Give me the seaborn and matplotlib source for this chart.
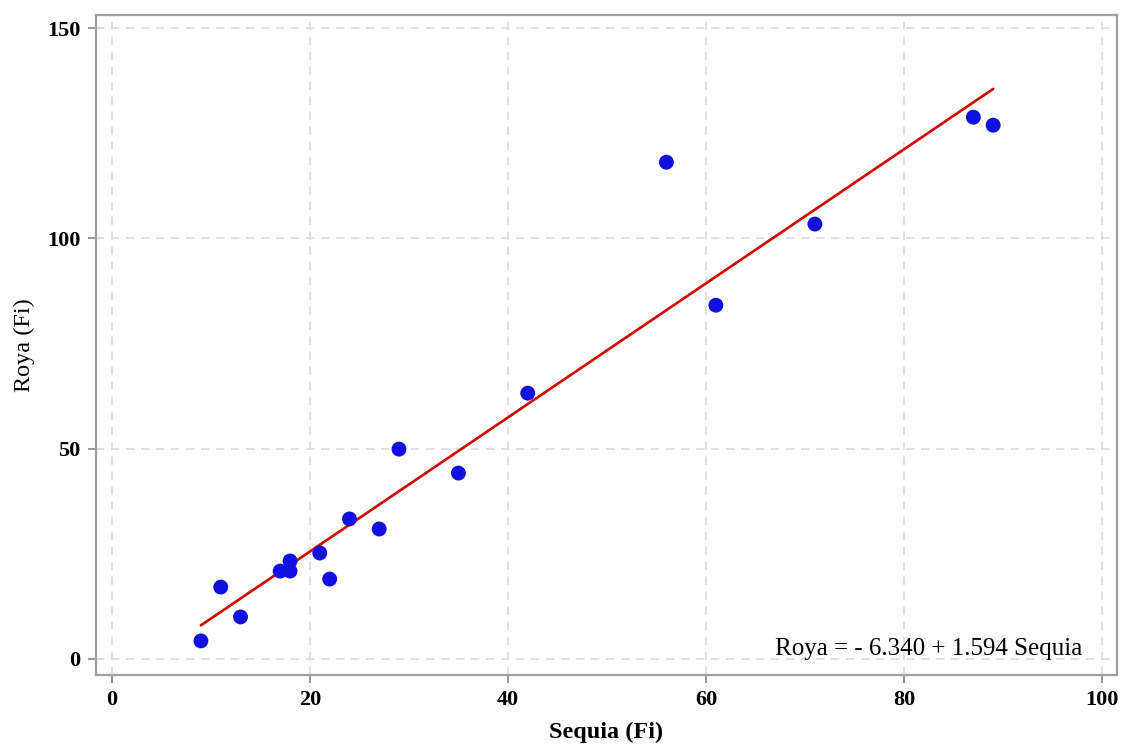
import matplotlib
matplotlib.use("Agg")
import matplotlib.pyplot as plt
import seaborn as sns
import numpy as np
import pandas as pd

sequia = [9, 11, 13, 17, 18, 18, 21, 22, 24, 27, 29, 35, 42, 56, 61, 71, 87, 89]
roya = [4.3, 17.1, 10.0, 20.9, 23.3, 20.9, 25.2, 19.0, 33.3, 30.9, 49.9, 44.2, 63.2, 118.1, 84.1, 103.4, 128.8, 126.9]
intercept = -6.340
slope = 1.594
x_ticks = [0, 20, 40, 60, 80, 100]
y_ticks = [0, 50, 100, 150]
equation = "Roya = - 6.340 + 1.594 Sequia"

sns.set_theme(style="white")
plt.rcParams['font.family'] = ['Liberation Serif', 'DejaVu Serif']
plt.rcParams['text.color'] = 'black'
plt.rcParams['axes.labelcolor'] = 'black'
plt.rcParams['xtick.labelcolor'] = 'black'
plt.rcParams['ytick.labelcolor'] = 'black'

df = pd.DataFrame({"Sequia": sequia, "Roya": roya})
xfit = np.linspace(min(sequia), max(sequia), 50)
fit = pd.DataFrame({"Sequia": xfit, "Roya": intercept + slope * xfit})

fig = plt.figure(figsize=(11.21, 7.46), dpi=100)
ax = fig.add_axes([0.0856, 0.0952, 0.9108, 0.8847])

sns.lineplot(data=fit, x="Sequia", y="Roya", ax=ax, color="#D00000", linewidth=1.9, zorder=2)
sns.scatterplot(data=df, x="Sequia", y="Roya", ax=ax, color="#1010E0", s=115,
                edgecolor="none", zorder=3)

ax.set_xlim(-1.6, 101.5)
ax.set_ylim(-3.8, 153.1)
ax.set_xticks(x_ticks)
ax.set_yticks(y_ticks)
ax.set_xticklabels([str(t) for t in x_ticks], fontsize=16, fontweight="bold", color="black")
ax.set_yticklabels([str(t) for t in y_ticks], fontsize=16, fontweight="bold", color="black")
ax.grid(True, linestyle=(0, (5, 4)), color="#dcdcdc", linewidth=1.2, zorder=0)
ax.set_axisbelow(True)
for sp in ax.spines.values():
    sp.set_color("#a0a0a0")
    sp.set_linewidth(1.6)
ax.tick_params(axis="both", direction="out", length=6, width=1.3, color="#909090",
               bottom=True, left=True, pad=5)
ax.set_xlabel("Sequia (Fi)", fontsize=17.5, fontweight="bold", labelpad=8, color="black")
ax.set_ylabel("Roya (Fi)", fontsize=17.5, labelpad=9, color="black")
ax.text(0.966, 0.030, equation, transform=ax.transAxes, ha="right", va="baseline",
        fontsize=18, color="black")

fig.savefig("out.png", dpi=100)
